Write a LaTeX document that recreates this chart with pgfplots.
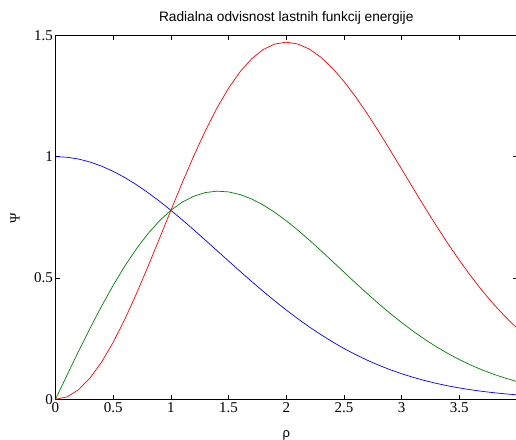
\documentclass[border=0pt]{standalone}
\usepackage{fontspec}
\setmainfont{Liberation Sans}
\newfontfamily\tickfont{Liberation Serif}
\usepackage{pgfplots}
\pgfplotsset{compat=1.18}
\definecolor{mblue}{rgb}{0,0,1}
\definecolor{mgreen}{rgb}{0,0.5,0}
\definecolor{mred}{rgb}{1,0,0}

\begin{document}
\begin{tikzpicture}
\begin{axis}[
 at={(0,0)},anchor=south west,
 scale only axis,width=461.5pt,height=364pt,
 xmin=0,xmax=4,ymin=0,ymax=1.5,
 xtick={0,0.5,1,1.5,2,2.5,3,3.5},ytick={0,0.5,1,1.5},
 tick align=inside,major tick length=4.5pt,
 axis line style={line width=0.7pt},
 tick style={line width=0.6pt,black},
 xticklabel={\tickfont\fontsize{15}{15}\selectfont\pgfmathprintnumber[assume math mode=true]{\tick}},
 yticklabel={\tickfont\fontsize{15}{15}\selectfont\pgfmathprintnumber[assume math mode=true]{\tick}},
 yticklabel style={xshift=1pt},
 title={Radialna odvisnost lastnih funkcij energije},
 title style={at={(axis description cs:0.5,1.022)},anchor=base,font=\fontsize{13.7}{13.7}\selectfont},
 xlabel={ρ},
 xlabel style={at={(axis description cs:0.5,-0.105)},anchor=base,font=\fontsize{13}{13}\selectfont},
 ylabel={Ψ},
 ylabel style={at={(axis description cs:-0.0878,0.497)},anchor=center,font=\tickfont\fontsize{14}{14}\selectfont},
 every axis plot/.append style={line width=0.7pt}]
% exp(-rho^2/4)
\addplot[mblue] coordinates
 {(0,1) (0.1,0.99750) (0.2,0.99005) (0.3,0.97775) (0.4,0.96079) (0.5,0.93941)
  (0.6,0.91393) (0.7,0.88471) (0.8,0.85214) (0.9,0.81669) (1.0,0.77880)
  (1.1,0.73897) (1.2,0.69768) (1.3,0.65541) (1.4,0.61263) (1.5,0.56978)
  (1.6,0.52729) (1.7,0.48554) (1.8,0.44486) (1.9,0.40556) (2.0,0.36788)
  (2.1,0.33204) (2.2,0.29820) (2.3,0.26647) (2.4,0.23693) (2.5,0.20961)
  (2.6,0.18452) (2.7,0.16162) (2.8,0.14086) (2.9,0.12215) (3.0,0.10540)
  (3.1,0.09049) (3.2,0.07731) (3.3,0.06571) (3.4,0.05558) (3.5,0.04677)
  (3.6,0.03916) (3.7,0.03263) (3.8,0.02705) (3.9,0.02232) (4.0,0.01832)};
\addplot[mgreen] coordinates
 {(0,0) (0.1,0.09975) (0.2,0.19801) (0.3,0.29333) (0.4,0.38432) (0.5,0.46971)
  (0.6,0.54836) (0.7,0.61929) (0.8,0.68172) (0.9,0.73502) (1.0,0.77880)
  (1.1,0.81287) (1.2,0.83721) (1.3,0.85203) (1.4,0.85768) (1.5,0.85467)
  (1.6,0.84367) (1.7,0.82541) (1.8,0.80074) (1.9,0.77055) (2.0,0.73576)
  (2.1,0.69728) (2.2,0.65603) (2.3,0.61288) (2.4,0.56863) (2.5,0.52403)
  (2.6,0.47975) (2.7,0.43638) (2.8,0.39440) (2.9,0.35424) (3.0,0.31620)
  (3.1,0.28052) (3.2,0.24738) (3.3,0.21684) (3.4,0.18896) (3.5,0.16370)
  (3.6,0.14099) (3.7,0.12072) (3.8,0.10280) (3.9,0.08703) (4.0,0.07326)};
\addplot[mred] coordinates
 {(0,0) (0.1,0.00998) (0.2,0.03960) (0.3,0.08800) (0.4,0.15373) (0.5,0.23485)
  (0.6,0.32902) (0.7,0.43351) (0.8,0.54537) (0.9,0.66152) (1.0,0.77880)
  (1.1,0.89415) (1.2,1.00465) (1.3,1.10764) (1.4,1.20075) (1.5,1.28201)
  (1.6,1.34987) (1.7,1.40320) (1.8,1.44134) (1.9,1.46405) (2.0,1.47152)
  (2.1,1.46429) (2.2,1.44327) (2.3,1.40962) (2.4,1.36471) (2.5,1.31007)
  (2.6,1.24736) (2.7,1.17822) (2.8,1.10433) (2.9,1.02729) (3.0,0.94859)
  (3.1,0.86962) (3.2,0.79160) (3.3,0.71557) (3.4,0.64246) (3.5,0.57294)
  (3.6,0.50757) (3.7,0.44668) (3.8,0.39063) (3.9,0.33941) (4.0,0.29306)};
\end{axis}
\pgfresetboundingbox
\path[use as bounding box] (-55.5pt,-39.7pt) rectangle (460.5pt,399.3pt);
\end{tikzpicture}
\end{document}
